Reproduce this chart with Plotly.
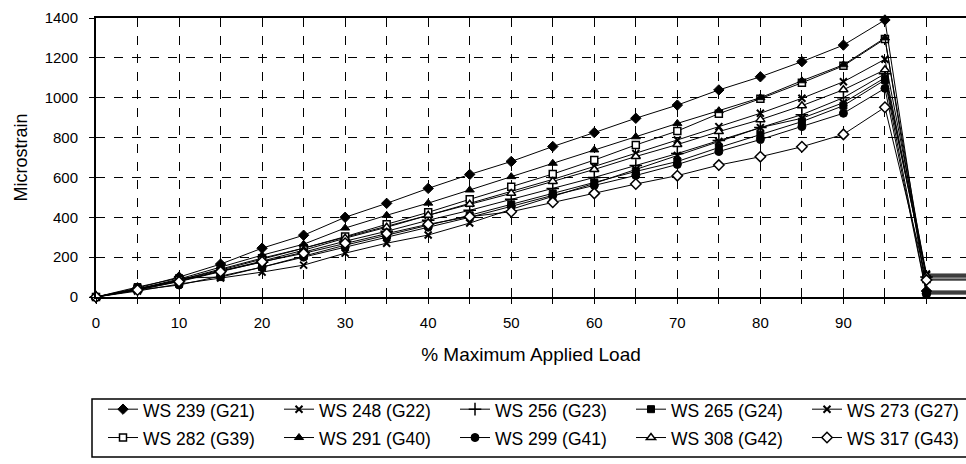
import plotly.graph_objects as go

load = [0, 5, 10, 15, 20, 25, 30, 35, 40, 45, 50, 55, 60, 65, 70, 75, 80, 85, 90, 95, 100, 110]

names = ["WS 239 (G21)", "WS 248 (G22)", "WS 256 (G23)", "WS 265 (G24)", "WS 273 (G27)",
         "WS 282 (G39)", "WS 291 (G40)", "WS 299 (G41)", "WS 308 (G42)", "WS 317 (G43)"]

ws239 = [0, 45, 100, 165, 245, 310, 400, 470, 545, 615, 680, 755, 825, 897, 963, 1039, 1105, 1181, 1264, 1390, 30, 30]
ws248 = [0, 30, 65, 95, 125, 160, 220, 270, 311, 371, 440, 505, 570, 640, 710, 780, 850, 897, 975, 1100, 110, 110]
ws256 = [0, 40, 80, 130, 175, 225, 280, 330, 385, 435, 490, 545, 600, 660, 720, 785, 850, 915, 1000, 1120, 100, 100]
ws265 = [0, 50, 95, 100, 150, 205, 260, 310, 360, 410, 465, 520, 575, 630, 680, 750, 815, 880, 960, 1089, 20, 20]
ws273 = [0, 40, 85, 135, 190, 245, 300, 355, 410, 470, 530, 590, 655, 720, 788, 855, 922, 997, 1080, 1193, 115, 115]
ws282 = [0, 40, 85, 140, 195, 245, 303, 365, 425, 490, 553, 617, 687, 763, 833, 920, 995, 1075, 1160, 1295, 90, 90]
ws291 = [0, 40, 90, 150, 210, 265, 346, 410, 471, 537, 604, 671, 738, 804, 871, 935, 1000, 1085, 1165, 1300, 25, 25]
ws299 = [0, 35, 60, 105, 150, 200, 250, 300, 350, 400, 455, 510, 560, 610, 665, 730, 790, 855, 922, 1047, 15, 15]
ws308 = [0, 35, 80, 130, 180, 235, 295, 350, 410, 465, 520, 580, 640, 705, 765, 830, 890, 960, 1040, 1140, 105, 105]
ws317 = [0, 35, 77, 127, 177, 219, 270, 318, 365, 403, 428, 475, 520, 567, 609, 662, 704, 754, 816, 952, 85, 85]

series = [ws239, ws248, ws256, ws265, ws273, ws282, ws291, ws299, ws308, ws317]

styles = [
    dict(symbol="diamond", color="black", line=dict(color="black", width=1), size=8),
    dict(symbol="x-thin", color="black", line=dict(color="black", width=2), size=7),
    dict(symbol="cross-thin", color="black", line=dict(color="black", width=1.5), size=9),
    dict(symbol="square", color="black", line=dict(color="black", width=1), size=7),
    dict(symbol="x-thin", color="black", line=dict(color="black", width=2), size=7),
    dict(symbol="square", color="white", line=dict(color="black", width=1.5), size=7),
    dict(symbol="triangle-up", color="black", line=dict(color="black", width=1), size=8),
    dict(symbol="circle", color="black", line=dict(color="black", width=1), size=8),
    dict(symbol="triangle-up", color="white", line=dict(color="black", width=1.5), size=8),
    dict(symbol="diamond", color="white", line=dict(color="black", width=1.5), size=8),
]

legend_ids = ["legend", "legend2", "legend3", "legend4", "legend5"]

fig = go.Figure()
for i, (name, vals, st) in enumerate(zip(names, series, styles)):
    fig.add_trace(go.Scatter(
        x=load, y=vals, name='<span style="font-size:17.5px">' + name + '</span>',
        mode="lines+markers",
        line=dict(color="black", width=1),
        marker=st, cliponaxis=False,
        legend=legend_ids[i % 5],
    ))

FONT = "Liberation Sans, Arial, sans-serif"
xt = [0, 10, 20, 30, 40, 50, 60, 70, 80, 90, 100]
xl = ["0", "10", "20", "30", "40", "50", "60", "70", "80", "90", ""]

PX_W = 870.0   # plot width in px
PX_H = 279.0   # plot height in px
LEFT = 96.0
BOTTOM = 297.0

def px_x(p):
    return (p - LEFT) / PX_W

def px_y(p):
    return (BOTTOM - p) / PX_H

text_starts = [146, 322, 498, 674, 850]
legend_cfg = {}
for lid, ts in zip(legend_ids, text_starts):
    legend_cfg[lid] = dict(
        orientation="v", x=px_x(ts - 43), y=px_y(390), xanchor="left", yanchor="top",
        borderwidth=0, bgcolor="rgba(0,0,0,0)",
        font=dict(family=FONT, size=19.5, color="black"),
        traceorder="normal",
    )

fig.update_layout(
    width=966, height=464,
    margin=dict(l=96, r=0, t=18, b=167, autoexpand=False),
    paper_bgcolor="white", plot_bgcolor="white",
    font=dict(family=FONT, color="black", size=14),
    showlegend=True,
    **legend_cfg,
    shapes=[dict(type="rect", xref="paper", yref="paper",
                 x0=px_x(92), x1=px_x(970), y0=px_y(457), y1=px_y(399),
                 line=dict(color="black", width=1.5), fillcolor="rgba(0,0,0,0)", layer="below")],
    xaxis=dict(
        range=[0, 104.76], tickmode="array", tickvals=xt, ticktext=xl,
        showgrid=True, gridcolor="black", griddash="dash", gridwidth=1,
        ticks="outside", ticklen=5, tickcolor="black",
        minor=dict(dtick=5, showgrid=True, gridcolor="black", griddash="dash", gridwidth=1,
                   ticks="outside", ticklen=5, tickcolor="black"),
        showline=True, linecolor="black", linewidth=2, mirror=True,
        zeroline=False, ticklabelstandoff=6,
        tickfont=dict(size=15, family=FONT),
        title=dict(text="% Maximum Applied Load", font=dict(size=19, family=FONT), standoff=18),
    ),
    yaxis=dict(
        range=[0, 1400], dtick=200, tick0=0,
        showgrid=True, gridcolor="black", griddash="dash", gridwidth=1,
        ticks="outside", ticklen=5, tickcolor="black",
        showline=True, linecolor="black", linewidth=2,
        zeroline=False, ticklabelstandoff=8,
        tickfont=dict(size=15, family=FONT),
        title=dict(text="Microstrain", font=dict(size=18, family=FONT), standoff=12),
    ),
)

fig.write_html("out.html")
